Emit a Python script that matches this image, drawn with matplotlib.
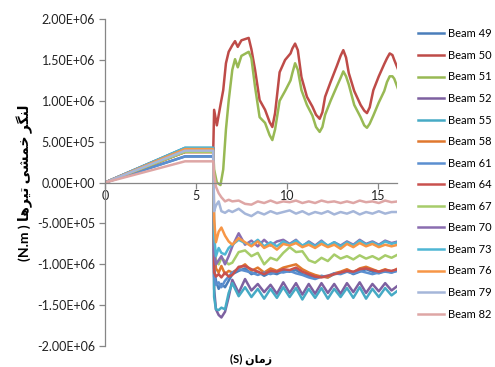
"""Bending moment of beams vs time (Excel-style line chart, 14 beams)."""
import numpy as np
import matplotlib

matplotlib.use("Agg")
import matplotlib.pyplot as plt
from matplotlib.ticker import FuncFormatter, MultipleLocator

plt.rcParams["font.family"] = ["Lato", "DejaVu Sans"]

# ---------------------------------------------------------------- data (x 1e5 N.m)
T_MAIN = [0, 4.4, 5.95, 6.0, 6.1, 6.25, 6.4, 6.6, 6.8,
          7.0, 7.35, 7.7, 8.05, 8.4, 8.75, 9.1, 9.45, 9.8,
          10.15, 10.5, 10.85, 11.2, 11.55, 11.9, 12.25, 12.6, 12.95,
          13.3, 13.65, 14.0, 14.35, 14.7, 15.05, 15.4, 15.75, 16.1]

T_WAVE = [0, 4.4, 5.95, 6.0, 6.15, 6.35, 6.5, 6.65, 6.8, 7.0,
          7.15, 7.3, 7.5, 7.9, 8.05, 8.25, 8.5, 8.8, 9.05, 9.2, 9.35, 9.6,
          9.9, 10.2, 10.3, 10.45, 10.6, 10.8, 11.1, 11.4, 11.6, 11.8, 11.95, 12.1, 12.4, 12.75,
          12.95, 13.1, 13.25, 13.4, 13.7, 14.05, 14.25, 14.4, 14.55, 14.75, 15.05, 15.35,
          15.5, 15.65, 15.8, 15.9, 16.1]

beam50 = [0, 3.75, 3.75, 8.9, 7.0, 9.5, 11.3, 14.6, 16.0, 16.8,
          17.3, 16.6, 17.4, 17.7, 16.3, 13.8, 10.1, 8.9, 7.4, 6.8, 8.5, 13.5,
          15.0, 15.8, 16.4, 17.0, 16.2, 12.9, 10.5, 9.3, 8.3, 7.8, 8.6, 10.5, 12.3, 14.3,
          15.5, 16.2, 15.3, 13.4, 11.2, 9.5, 8.8, 8.5, 9.2, 11.3, 13.0, 14.5,
          15.2, 15.8, 15.6, 15.0, 13.9]
beam51 = [0, 3.9, 3.9, 1.6, 0.0, -0.3, 1.6, 6.5, 10.0, 13.8,
          15.1, 14.1, 15.5, 16.0, 15.2, 11.7, 8.0, 7.3, 5.8, 5.2, 6.5, 10.0,
          11.2, 12.5, 13.4, 14.6, 13.8, 11.3, 9.5, 8.2, 6.8, 6.2, 6.8, 8.3, 10.0, 11.8,
          12.8, 13.6, 13.0, 12.0, 9.5, 8.0, 7.0, 6.7, 7.2, 8.2, 9.8, 11.2,
          12.3, 13.0, 13.0, 12.7, 11.5]

beam49 = [0, 3.2, 3.2, -10.5, -12.0, -13.0, -12.4, -12.8, -12.0,
          -11.2, -10.8, -10.5, -11.2, -10.9, -11.4, -11.0, -11.2, -10.8,
          -10.9, -10.7, -11.2, -11.4, -11.7, -11.4, -11.6, -11.2, -11.1,
          -10.8, -11.2, -10.9, -10.6, -10.9, -11.1, -10.8, -11.0, -10.7]
beam52 = [0, 4.2, 4.2, -13.0, -15.5, -16.2, -16.5, -15.8, -14.0,
          -11.9, -13.5, -11.8, -13.2, -12.4, -13.4, -12.5, -13.6, -12.2,
          -13.5, -12.3, -13.7, -12.4, -13.6, -12.3, -13.5, -12.4, -13.6,
          -12.3, -13.4, -12.2, -13.5, -12.4, -13.3, -12.3, -13.2, -12.6]
beam55 = [0, 4.25, 4.25, -14.0, -15.5, -15.6, -15.3, -15.5, -13.5,
          -12.3, -13.9, -12.8, -14.0, -13.0, -14.2, -13.0, -14.1, -12.8,
          -14.0, -12.9, -14.3, -13.0, -14.1, -12.9, -14.2, -13.0, -14.0,
          -12.9, -14.1, -12.8, -14.2, -13.0, -14.0, -12.9, -13.8, -13.2]
beam58 = [0, 3.75, 3.75, -7.5, -10.5, -11.0, -10.2, -11.2, -10.8,
          -11.0, -10.5, -10.0, -10.8, -10.4, -11.0, -10.5, -10.8, -10.4,
          -10.2, -10.0, -10.6, -11.0, -11.3, -11.5, -11.6, -11.1, -10.9,
          -10.6, -11.0, -10.5, -10.3, -10.6, -10.9, -10.6, -10.9, -10.5]
beam61 = [0, 3.2, 3.2, -11.5, -12.5, -12.2, -12.8, -12.0, -11.5,
          -11.0, -10.6, -10.8, -11.0, -11.3, -11.0, -11.2, -10.9, -11.0,
          -10.8, -11.1, -11.3, -11.6, -11.8, -11.5, -11.4, -11.1, -11.2,
          -10.9, -11.1, -10.8, -11.0, -11.2, -11.0, -10.9, -11.0, -10.8]
beam64 = [0, 3.75, 3.75, -11.0, -11.5, -11.2, -11.6, -11.0, -11.5,
          -11.3, -10.3, -10.2, -10.6, -10.9, -11.2, -10.8, -10.9, -10.6,
          -10.7, -10.4, -10.9, -11.2, -11.5, -11.6, -11.4, -11.2, -11.0,
          -10.8, -10.9, -10.6, -10.5, -10.7, -10.9, -10.7, -10.8, -10.6]
beam67 = [0, 3.75, 3.75, -8.0, -9.5, -10.0, -9.2, -9.6, -10.0,
          -9.8, -8.5, -8.3, -9.0, -8.6, -10.0, -9.2, -9.5, -8.6,
          -7.9, -8.5, -8.4, -9.5, -9.8, -9.2, -9.6, -8.8, -9.3,
          -9.0, -9.4, -8.9, -9.3, -9.0, -9.4, -8.9, -9.2, -8.8]
beam70 = [0, 4.2, 4.2, -8.5, -10.0, -9.5, -9.0, -10.0, -9.0,
          -7.8, -6.2, -7.6, -7.1, -7.8, -7.0, -7.7, -7.2, -7.0,
          -7.5, -7.0, -7.8, -7.2, -7.7, -7.1, -7.8, -7.3, -7.7,
          -7.2, -7.6, -7.0, -7.5, -7.2, -7.6, -7.1, -7.4, -7.2]
beam73 = [0, 4.25, 4.25, -6.5, -9.0, -8.0, -8.6, -8.8, -8.0,
          -7.6, -7.0, -7.4, -7.6, -7.0, -7.8, -7.3, -7.8, -7.2,
          -7.6, -7.1, -7.7, -7.3, -7.8, -7.2, -7.7, -7.3, -7.8,
          -7.3, -7.7, -7.1, -7.6, -7.3, -7.7, -7.2, -7.5, -7.3]
beam76 = [0, 4.1, 4.1, -4.5, -7.3, -6.0, -5.5, -6.5, -7.2,
          -7.6, -6.8, -7.3, -7.8, -7.2, -8.0, -7.6, -8.2, -7.5,
          -7.7, -7.4, -7.9, -7.6, -8.0, -7.5, -7.9, -7.6, -8.1,
          -7.5, -7.9, -7.4, -7.8, -7.5, -7.9, -7.6, -7.8, -7.6]
beam79 = [0, 3.9, 3.9, -3.5, -2.8, -2.3, -3.5, -3.7, -3.4,
          -3.6, -3.2, -3.8, -4.1, -3.6, -3.9, -3.5, -3.8, -3.6,
          -3.4, -3.8, -3.5, -3.9, -3.6, -3.8, -3.5, -3.9, -3.6,
          -3.8, -3.5, -3.9, -3.6, -3.8, -3.5, -3.8, -3.6, -3.6]
beam82 = [0, 2.6, 2.6, 1.0, -0.5, -1.3, -1.8, -2.3, -2.1,
          -2.3, -2.2, -2.6, -2.7, -2.3, -2.5, -2.2, -2.5, -2.3,
          -2.4, -2.2, -2.5, -2.3, -2.5, -2.2, -2.4, -2.3, -2.5,
          -2.3, -2.5, -2.2, -2.4, -2.3, -2.5, -2.2, -2.4, -2.3]

LABELS = ["Beam 49", "Beam 50", "Beam 51", "Beam 52", "Beam 55", "Beam 58", "Beam 61",
          "Beam 64", "Beam 67", "Beam 70", "Beam 73", "Beam 76", "Beam 79", "Beam 82"]
SERIES = [(T_MAIN, beam49), (T_WAVE, beam50), (T_WAVE, beam51), (T_MAIN, beam52),
          (T_MAIN, beam55), (T_MAIN, beam58), (T_MAIN, beam61), (T_MAIN, beam64),
          (T_MAIN, beam67), (T_MAIN, beam70), (T_MAIN, beam73), (T_MAIN, beam76),
          (T_MAIN, beam79), (T_MAIN, beam82)]
COLORS = ["#4a7ebb", "#be4b48", "#98b954", "#7d60a0", "#46aac5", "#e0782e", "#5b8fd0",
          "#c9514e", "#a7cc6a", "#8a6db0", "#4fb6d4", "#f79646", "#a5b6d9", "#dea6a5"]

# ---------------------------------------------------------------- crude Persian shaping
FORMS = {  # isolated, final, initial, medial
    "ا": ("\uFE8D", "\uFE8E", None, None),
    "ت": ("\uFE95", "\uFE96", "\uFE97", "\uFE98"),
    "خ": ("\uFEA5", "\uFEA6", "\uFEA7", "\uFEA8"),
    "ر": ("\uFEAD", "\uFEAE", None, None),
    "ز": ("\uFEAF", "\uFEB0", None, None),
    "ش": ("\uFEB5", "\uFEB6", "\uFEB7", "\uFEB8"),
    "گ": ("\uFB92", "\uFB93", "\uFB94", "\uFB95"),
    "ل": ("\uFEDD", "\uFEDE", "\uFEDF", "\uFEE0"),
    "م": ("\uFEE1", "\uFEE2", "\uFEE3", "\uFEE4"),
    "ن": ("\uFEE5", "\uFEE6", "\uFEE7", "\uFEE8"),
    "ه": ("\uFEE9", "\uFEEA", "\uFEEB", "\uFEEC"),
    "ی": ("\uFBFC", "\uFBFD", "\uFBFE", "\uFBFF"),
}


def fa(text):
    out = []
    for i, ch in enumerate(text):
        if ch not in FORMS:
            out.append(ch)
            continue
        prev = text[i - 1] if i > 0 else ""
        nxt = text[i + 1] if i + 1 < len(text) else ""
        iso, fin, ini, med = FORMS[ch]
        jp = prev in FORMS and FORMS[prev][2] is not None
        jn = nxt in FORMS and ini is not None
        out.append(med if (jp and jn) else fin if jp else ini if jn else iso)
    return "".join(reversed(out))


# ---------------------------------------------------------------- figure
GREY = "#868686"
fig = plt.figure(figsize=(4.95, 3.67), dpi=100)
ax = fig.add_axes([0.212, 0.057, 0.59, 0.891])

for (t, v), lab, c in zip(SERIES, LABELS, COLORS):
    ax.plot(t, np.array(v) * 1e5, color=c, lw=1.8, label=lab, solid_joinstyle="round")

ax.set_xlim(0, 16.05)
ax.set_ylim(-2e6, 2e6)
ax.yaxis.set_major_locator(MultipleLocator(5e5))
ax.yaxis.set_major_formatter(FuncFormatter(lambda v, _: f"{v:.2E}"))
ax.set_xticks([0, 5, 10, 15])

for s in ("top", "right"):
    ax.spines[s].set_visible(False)
ax.spines["bottom"].set_position(("data", 0))
for s in ("left", "bottom"):
    ax.spines[s].set_color(GREY)
    ax.spines[s].set_linewidth(0.9)
ax.tick_params(axis="both", direction="out", length=4, width=0.9, color=GREY,
               labelsize=9, labelcolor="#222222")
ax.tick_params(axis="y", pad=3)
ax.tick_params(axis="x", pad=1)

ax.set_ylabel("(N.m ) " + fa("لنگر خمشی تیرها"), fontsize=10, fontweight="bold", labelpad=3)
ax.set_xlabel("(S) " + fa("زمان"), fontsize=8, fontweight="bold")
ax.xaxis.set_label_coords(0.5, -0.022)

fig.legend(loc="upper left", bbox_to_anchor=(0.835, 0.935), frameon=False, fontsize=8,
           handlelength=2.4, handletextpad=0.3, labelspacing=0.95, borderaxespad=0)

fig.savefig("out.png", dpi=100, facecolor="white")
